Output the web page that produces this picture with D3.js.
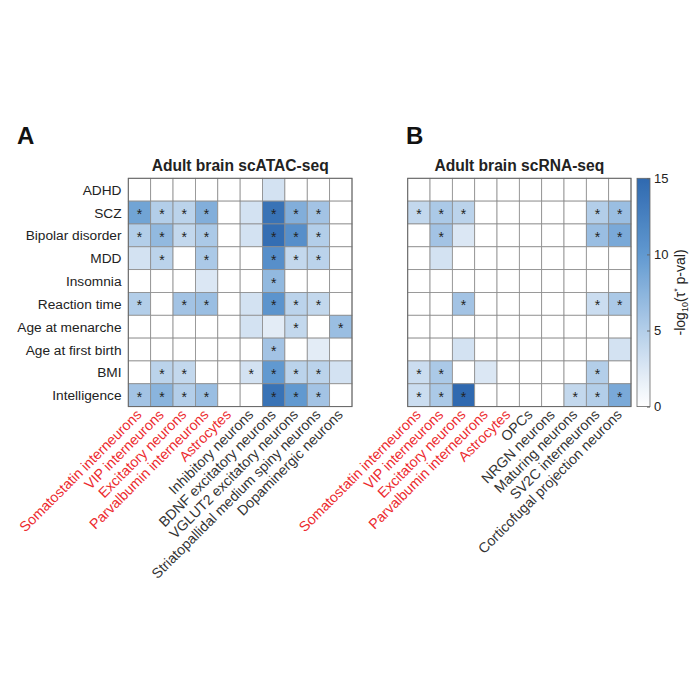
<!DOCTYPE html>
<html><head><meta charset="utf-8">
<script src="https://cdn.jsdelivr.net/npm/d3@7"></script>
<style>body{margin:0;background:#fff}svg{font-family:"Liberation Sans",Arial,sans-serif}</style>
</head><body><svg id="c" width="700" height="700"></svg>
<script>
const traits = ["ADHD","SCZ","Bipolar disorder","MDD","Insomnia","Reaction time","Age at menarche","Age at first birth","BMI","Intelligence"];
const cellsA = ["Somatostatin interneurons","VIP interneurons","Excitatory neurons","Parvalbumin interneurons","Astrocytes","Inhibitory neurons","BDNF excitatory neurons","VGLUT2 excitatory neurons","Striatopallidal medium spiny neurons","Dopaminergic neurons"];
const cellsB = ["Somatostatin interneurons","VIP interneurons","Excitatory neurons","Parvalbumin interneurons","Astrocytes","OPCs","NRGN neurons","Maturing neurons","SV2C interneurons","Corticofugal projection neurons"];
const redCount = 5;
// -log10 p values (rows = traits, cols = cell types)
const valuesA = [
 [0,0,0,0,0,0,3,0,0,0],
 [9,5,4.5,8,0,3,14,8,6,0],
 [5,7,4,5.5,0,3,14.5,11,5,0],
 [3,4.5,0,5.5,0,0,11,4,4.5,0],
 [0,0,0,2.5,0,0,7,0,0,0],
 [5,0,6,6.5,0,3,10.5,4.5,4,0],
 [0,0,0,0,0,3,2,4,0,6.5],
 [0,0,0,0,0,0,6,0,2,0],
 [0,4.5,4,0,0,3,10,4.5,4.5,3],
 [6,7.5,5,6.5,0,0,14,10,6,0]
];
const starsA = [
 [0,0,0,0,0,0,0,0,0,0],
 [1,1,1,1,0,0,1,1,1,0],
 [1,1,1,1,0,0,1,1,1,0],
 [0,1,0,1,0,0,1,1,1,0],
 [0,0,0,0,0,0,1,0,0,0],
 [1,0,1,1,0,0,1,1,1,0],
 [0,0,0,0,0,0,0,1,0,1],
 [0,0,0,0,0,0,1,0,0,0],
 [0,1,1,0,0,1,1,1,1,0],
 [1,1,1,1,0,0,1,1,1,0]
];
const valuesB = [
 [0,0,0,0,0,0,0,0,0,0],
 [4,5.5,4.5,0,0,0,0,0,5,6.5],
 [0,6,2.5,0,0,0,0,0,6.5,8.5],
 [0,3,0,0,0,0,0,0,0,0],
 [0,0,0,0,0,0,0,0,0,0],
 [0,0,6,0,0,0,0,0,3.5,5.5],
 [0,0,0,0,0,0,0,0,0,0],
 [0,0,3,0,0,0,0,0,0,3],
 [3.5,5.5,0,2.5,0,0,0,0,5,0],
 [3.5,5.5,15,0,0,0,0,4,5,8.5]
];
const starsB = [
 [0,0,0,0,0,0,0,0,0,0],
 [1,1,1,0,0,0,0,0,1,1],
 [0,1,0,0,0,0,0,0,1,1],
 [0,0,0,0,0,0,0,0,0,0],
 [0,0,0,0,0,0,0,0,0,0],
 [0,0,1,0,0,0,0,0,1,1],
 [0,0,0,0,0,0,0,0,0,0],
 [0,0,0,0,0,0,0,0,0,0],
 [1,1,0,0,0,0,0,0,1,0],
 [1,1,1,0,0,0,0,1,1,1]
];
const colorTicks = [0,5,10,15];

const svg = d3.select("#c");
const color = d3.scaleLinear().domain([0,2,5,10,15]).range(["#ffffff","#e3ecf6","#b3cee9","#6199d0","#2f69b0"]).clamp(true);
const gTop = 178.3, gBottom = 406.6;
const y = d3.scaleBand().domain(traits).range([gTop,gBottom]);
const red = "#ec2a2e", dark = "#333333";

function panel(x0,x1,cells,vals,stars,title,letter){
  const x = d3.scaleBand().domain(cells).range([x0,x1]);
  const g = svg.append("g");
  const data = [];
  traits.forEach((t,i)=>cells.forEach((c,j)=>data.push({t,c,v:vals[i][j],s:stars[i][j]})));
  g.selectAll("rect.cell").data(data).join("rect").attr("class","cell")
    .attr("x",d=>x(d.c)).attr("y",d=>y(d.t)).attr("width",x.bandwidth()).attr("height",y.bandwidth())
    .attr("fill",d=>color(d.v)).attr("stroke","#8c8c8c").attr("stroke-width",0.8);
  g.selectAll("text.star").data(data.filter(d=>d.s)).join("text").attr("class","star")
    .attr("x",d=>x(d.c)+x.bandwidth()/2).attr("y",d=>y(d.t)+y.bandwidth()/2+6.5)
    .attr("text-anchor","middle").attr("font-size",14).attr("fill","#222").text("*");
  g.append("rect").attr("x",x0).attr("y",gTop).attr("width",x1-x0).attr("height",gBottom-gTop)
    .attr("fill","none").attr("stroke","#666").attr("stroke-width",1);
  g.selectAll("text.xl").data(cells).join("text").attr("class","xl")
    .attr("transform",d=>`translate(${x(d)+x.bandwidth()/2+3},${gBottom+9}) rotate(-45)`)
    .attr("text-anchor","end").attr("font-size",14.2)
    .attr("fill",(d,i)=>i<redCount?red:dark).text(d=>d);
  g.append("text").attr("x",(x0+x1)/2).attr("y",171).attr("text-anchor","middle")
    .attr("font-size",15.6).attr("font-weight","bold").attr("fill","#222").text(title);
  g.append("text").attr("x",letter==="A"?17:406).attr("y",144).attr("font-size",24)
    .attr("font-weight","bold").attr("fill","#111").text(letter);
}
panel(128.3,352,cellsA,valuesA,starsA,"Adult brain scATAC-seq","A");
panel(407.7,631,cellsB,valuesB,starsB,"Adult brain scRNA-seq","B");

// row labels
svg.selectAll("text.yl").data(traits).join("text").attr("class","yl")
  .attr("x",121.5).attr("y",d=>y(d)+y.bandwidth()/2+5).attr("text-anchor","end")
  .attr("font-size",13.7).attr("fill","#222").text(d=>d);

// colorbar
const defs = svg.append("defs");
const lg = defs.append("linearGradient").attr("id","cb").attr("x1",0).attr("x2",0).attr("y1",1).attr("y2",0);
d3.range(0,15.01,0.5).forEach(v=>lg.append("stop").attr("offset",v/15).attr("stop-color",color(v)));
const cbx = 637, cbw = 13;
const cy = d3.scaleLinear().domain([0,15]).range([gBottom,gTop]);
svg.append("rect").attr("x",cbx).attr("y",gTop).attr("width",cbw).attr("height",gBottom-gTop)
  .attr("fill","url(#cb)").attr("stroke","#666").attr("stroke-width",0.8);
const ax = svg.append("g").attr("transform",`translate(${cbx+cbw},0)`)
  .call(d3.axisRight(cy).tickValues(colorTicks).tickSize(-3).tickPadding(4).tickFormat(d3.format("d")));
ax.select(".domain").remove();
ax.selectAll("line").attr("stroke","#666");
ax.selectAll("text").attr("font-size",13).attr("fill","#222").attr("font-family","Liberation Sans, Arial, sans-serif");
const lab = svg.append("text").attr("transform",`translate(685,${(gTop+gBottom)/2}) rotate(-90)`)
  .attr("text-anchor","middle").attr("font-size",14).attr("fill","#222");
lab.append("tspan").text("-log");
lab.append("tspan").attr("font-size",9).attr("dy",3).text("10");
lab.append("tspan").attr("dy",-3).text("(τ");
lab.append("tspan").attr("font-size",9).attr("dy",-5).text("*");
lab.append("tspan").attr("dy",5).text(" p-val)");
</script></body></html>
